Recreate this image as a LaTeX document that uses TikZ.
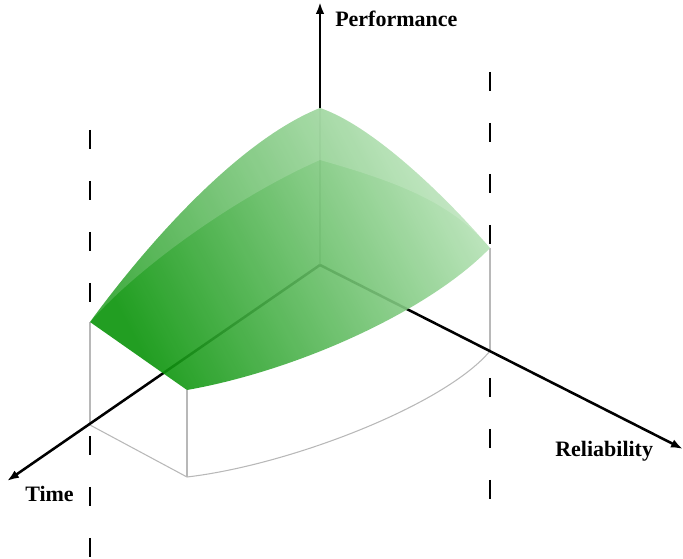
\documentclass[tikz,border=0pt]{standalone}
\usepackage{fontspec}
\setmainfont{Liberation Serif}
\usetikzlibrary{arrows.meta}
\definecolor{surfdark}{RGB}{10,148,10}
\definecolor{surflight}{RGB}{182,226,182}
\tikzset{
  axis/.style={line width=1.9pt,-{Latex[length=9pt,width=6.5pt]}},
  wall/.style={line width=0.8pt,draw=black!28},
  bound/.style={line width=1.9pt,dash pattern=on 14.25pt off 24pt},
  axlabel/.style={font=\bfseries\fontsize{16.5}{18}\selectfont,inner sep=0pt,anchor=base west},
}
\begin{document}
\begin{tikzpicture}[x=0.75pt,y=-0.75pt,line join=round]
  \useasboundingbox (0,0) rectangle (683,559);
  % corners of the volume
  \coordinate (O) at (320,265);
  \coordinate (top) at (320,108);
  \coordinate (mid) at (320,160);
  \coordinate (tl) at (90,322);
  \coordinate (tf) at (187,390);
  \coordinate (tr) at (490,248);
  \coordinate (bl) at (90,425);
  \coordinate (bf) at (187,477);
  \coordinate (br) at (490,351);
  \coordinate (perf) at (320,2);
  \coordinate (time) at (7,481);
  \coordinate (rel) at (683,449);
  % dashed bounds
  \draw[bound] (90,130) -- (90,559);
  \draw[bound] (490,72) -- (490,510);
  % walls
  \draw[wall] (O) -- (top);
  \draw[wall] (tl) -- (bl);
  \draw[wall] (tf) -- (bf);
  \draw[wall] (tr) -- (br);
  \draw[wall] (bl) -- (bf) .. controls (290,465) and (445,405) .. (br);
  % axes
  \draw[axis] (O) -- (time);
  \draw[axis] (O) -- (rel);
  \draw[axis] (top) -- (perf);
  % surface
  \shade[fill opacity=0.9,bottom color=surfdark,top color=surflight,shading angle=-62]
    (tl) .. controls (150,240) and (240,140) .. (top)
    .. controls (370,125) and (440,190) .. (tr)
    .. controls (430,310) and (300,370) .. (tf) -- cycle;
  \fill[white,fill opacity=0.16]
    (tl) .. controls (150,240) and (240,140) .. (top)
    .. controls (370,125) and (440,190) .. (tr)
    .. controls (450,200) and (390,180) .. (mid)
    .. controls (240,195) and (140,265) .. (tl) -- cycle;
  % labels
  \node[axlabel] (perf-lbl) at (335,27) {Performance};
  \node[axlabel] (rel-lbl) at (555,457) {Reliability};
  \node[axlabel] (time-lbl) at (25,502) {Time};
\end{tikzpicture}
\end{document}
